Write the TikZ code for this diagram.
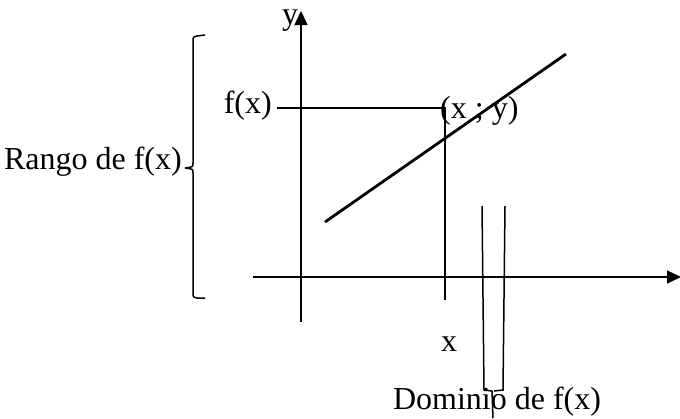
\documentclass[tikz,border=0pt]{standalone}
\usepackage{fontspec}
\setmainfont{Liberation Serif}
\usetikzlibrary{arrows.meta}
\tikzset{
  thin line/.style={line width=1.5pt},
  axis/.style={thin line,-{Triangle[length=14pt,width=13pt]}},
  graph line/.style={line width=2.8pt},
  lbl/.style={font=\fontsize{32}{32}\selectfont, inner sep=0pt}
}
\begin{document}
\begin{tikzpicture}[x=1pt,y=-1pt]
\useasboundingbox (0,0) rectangle (680,418);
% axes
\coordinate (yb) at (301,322);
\coordinate (yt) at (301,11);
\coordinate (xl) at (253,277);
\coordinate (xr) at (681,277);
\draw[axis] (yb) -- (yt);
\draw[axis] (xl) -- (xr);
% graph line
\coordinate (g1) at (325,222);
\coordinate (g2) at (566,54);
\draw[graph line] (g1) -- (g2);
% projection lines
\coordinate (fxl) at (277,108);
\coordinate (pt) at (445,108);
\coordinate (xb) at (445,300);
\draw[thin line] (fxl) -- (pt) -- (xb);
% labels
\node[lbl] (ylab) at (290,21) {y};
\node[lbl,anchor=east] (fx) at (272,106) {f(x)};
\node[lbl,anchor=west] (xy) at (440,111) {(x ; y)};
\node[lbl] (xlab) at (449,344) {x};
\node[lbl,anchor=east] (rango) at (182,162) {Rango de f(x)};
\node[lbl] (dom) at (497,402) {Dominio de f(x)};
% left brace
\coordinate (lb1) at (205,35);
\coordinate (lb2) at (205,298);
\draw[thin line] (lb1) -- (197,36) .. controls (193,37) .. (193,41) -- (193,163)
  .. controls (193,167) .. (185,168) ;
\draw[thin line] (185,168) .. controls (193,169) .. (193,173) -- (193,293)
  .. controls (193,297) .. (197,298) -- (lb2);
% bottom brace
\coordinate (bb1) at (482,206);
\coordinate (bb2) at (505,206);
\draw[thin line] (bb1) -- (484,390) -- (492,391) -- (493,418);
\draw[thin line] (bb2) -- (503,390) -- (494,391);
\end{tikzpicture}
\end{document}
